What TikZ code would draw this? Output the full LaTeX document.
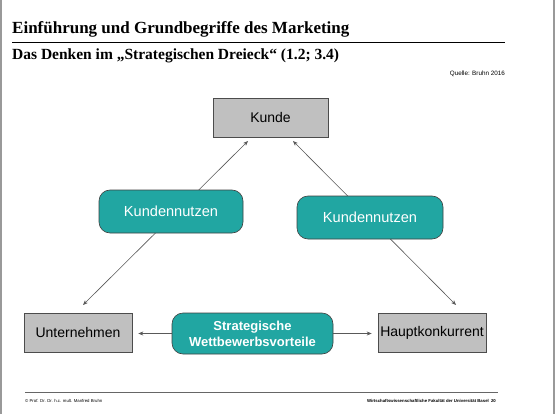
\documentclass[tikz,border=0pt]{standalone}
\usepackage{fontspec}
\setmainfont{Liberation Sans}
\newfontfamily\titlefont{Liberation Serif}
\usetikzlibrary{arrows.meta}
\definecolor{teal1}{HTML}{21A6A2}
\definecolor{boxgray}{HTML}{C0C0C0}
\tikzset{
  graybox/.style={draw=black!70, fill=boxgray, line width=0.6pt, minimum width=#1, minimum height=39pt, inner sep=0pt, font=\fontsize{14}{16}\selectfont},
  tealbox/.style={draw=black!75, fill=teal1, rounded corners=11pt, line width=0.6pt, text=white, inner sep=0pt, align=center},
  conn/.style={draw=black!65, line width=0.6pt, -{Stealth[length=5pt,width=4pt]}},
  conn2/.style={draw=black!65, line width=0.6pt, {Stealth[length=5pt,width=4pt]}-{Stealth[length=5pt,width=4pt]}},
}
\begin{document}
\begin{tikzpicture}[x=1pt,y=-1pt]
\useasboundingbox (0,0) rectangle (556,414);
\fill[white] (0,0) rectangle (556,414);
\draw[black!40, line width=1.5pt] (1,0) -- (1,414);
\draw[black!40, line width=1.5pt] (554,0) -- (554,414);
% header
\node[anchor=base west, inner sep=0pt, font=\titlefont\bfseries\fontsize{17}{20}\selectfont] (title) at (12,34) {Einführung und Grundbegriffe des Marketing};
\draw[black, line width=1pt] (12,42.5) -- (505,42.5);
\node[anchor=base west, inner sep=0pt, font=\titlefont\bfseries\fontsize{15.5}{18}\selectfont] (sub) at (12,60) {Das Denken im „Strategischen Dreieck“ (1.2; 3.4)};
\node[anchor=base east, inner sep=0pt, font=\fontsize{6.3}{7}\selectfont] (src) at (505,76) {Quelle: Bruhn 2016};
% footer
\draw[black!60, line width=0.6pt] (25,392) -- (498,392);
\node[anchor=base west, inner sep=0pt, font=\fontsize{4.3}{5}\selectfont] (fl) at (25,402) {© Prof. Dr. Dr. h.c. mult. Manfred Bruhn};
\node[anchor=base east, inner sep=0pt, font=\bfseries\fontsize{4.3}{5}\selectfont] (fr) at (496,402) {Wirtschaftswissenschaftliche Fakultät der Universität Basel\enspace 20};
% gray boxes
\node[graybox=115pt] (ku) at (270.5,117.5) {Kunde};
\node[graybox=108pt] (un) at (78,332.5) {Unternehmen};
\node[graybox=108pt] (hk) at (432,332.5) {Hauptkonkurrent};
% diagonal connectors
\coordinate (kl) at (248,141);
\coordinate (kr) at (293,141);
\coordinate (ul) at (83,305);
\coordinate (hr) at (456,305);
\draw[conn2] (ul) -- (kl);
\draw[conn2] (hr) -- (kr);
% teal boxes
\node[tealbox, minimum width=144pt, minimum height=43pt, font=\fontsize{14.6}{16}\selectfont] (kn1) at (171,211.5) {Kundennutzen};
\node[tealbox, minimum width=146pt, minimum height=43pt, font=\fontsize{14.6}{16}\selectfont] (kn2) at (370,217.5) {Kundennutzen};
\node[tealbox, minimum width=161pt, minimum height=41pt, font=\bfseries\fontsize{13}{16}\selectfont] (sw) at (252.5,333.5) {Strategische\\Wettbewerbsvorteile};
% horizontal connectors
\draw[conn] (sw.west) -- ([xshift=6pt]un.east |- sw.west);
\draw[conn] (sw.east) -- ([xshift=-6pt]hk.west |- sw.east);
\end{tikzpicture}
\end{document}
